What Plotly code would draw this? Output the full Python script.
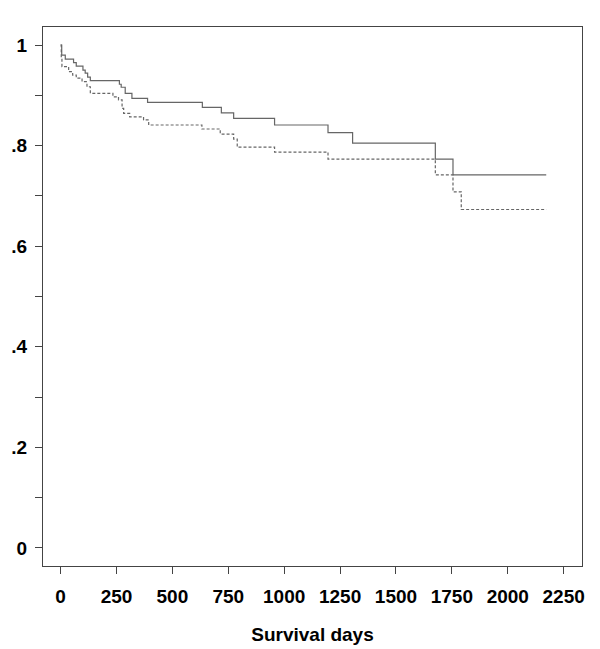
"""
Kaplan-Meier style survival curves (two groups) drawn as step lines.
"""

import plotly.graph_objects as go

# Group 1 (solid line): times of each drop and survival after it
solid_days = [0, 5, 21, 58, 70, 100, 110, 121, 133, 263, 271, 289, 319, 389,
              634, 719, 774, 957, 1196, 1306, 1676, 1755, 2172]
solid_surv = [1.0, 0.980, 0.972, 0.965, 0.958, 0.950, 0.944, 0.936, 0.929,
              0.922, 0.916, 0.904, 0.894, 0.886, 0.876, 0.865, 0.854, 0.841,
              0.826, 0.805, 0.773, 0.742, 0.742]

# Group 2 (dashed line)
dashed_days = [0, 3, 6, 36, 54, 70, 96, 118, 133, 234, 259, 275, 282, 309,
               371, 394, 632, 714, 774, 790, 957, 1196, 1676, 1755, 1792, 2172]
dashed_surv = [1.0, 0.975, 0.957, 0.947, 0.940, 0.934, 0.927, 0.917, 0.904,
               0.897, 0.891, 0.874, 0.864, 0.857, 0.851, 0.841, 0.833, 0.823,
               0.813, 0.797, 0.787, 0.773, 0.742, 0.708, 0.673, 0.673]

# Axis ticks
x_ticks = [0, 250, 500, 750, 1000, 1250, 1500, 1750, 2000, 2250]
y_ticks = [0, 0.2, 0.4, 0.6, 0.8, 1.0]
y_labels = ["0", ".2", ".4", ".6", ".8", "1"]

LINE_COLOR = "#666666"
AXIS_COLOR = "#444444"
FONT = "Liberation Sans, Arial, sans-serif"

fig = go.Figure()

fig.add_trace(go.Scatter(
    x=solid_days, y=solid_surv, mode="lines", line_shape="hv",
    line=dict(color=LINE_COLOR, width=1.2), showlegend=False,
))
fig.add_trace(go.Scatter(
    x=dashed_days, y=dashed_surv, mode="lines", line_shape="hv",
    line=dict(color=LINE_COLOR, width=1.2, dash="3px,2px"), showlegend=False,
))

fig.update_xaxes(
    range=[-78.7, 2332],
    tickvals=x_ticks, automargin=False,
    ticks="outside", ticklen=7, tickwidth=1, tickcolor=AXIS_COLOR,
    ticklabelstandoff=6,
    showline=True, linecolor=AXIS_COLOR, linewidth=1, mirror=True,
    showgrid=False, zeroline=False,
    tickfont=dict(family=FONT, size=19, color="black", weight="bold"),
    title=dict(text="<b>Survival days</b>", standoff=21,
               font=dict(family=FONT, size=19, color="black")),
)
fig.update_yaxes(
    range=[-0.0358, 1.0358],
    tickvals=y_ticks, ticktext=y_labels, automargin=False,
    ticks="outside", ticklen=7, tickwidth=1, tickcolor=AXIS_COLOR,
    ticklabelstandoff=4,
    minor=dict(dtick=0.1, tick0=0, ticks="outside", ticklen=7,
               tickcolor=AXIS_COLOR, showgrid=False),
    showline=True, linecolor=AXIS_COLOR, linewidth=1, mirror=True,
    showgrid=False, zeroline=False,
    tickfont=dict(family=FONT, size=19, color="black", weight="bold"),
)

# The page body adds an 8px offset, so the figure is sized to fit inside it
fig.update_layout(
    width=592, height=641,
    margin=dict(l=35, r=18, t=19, b=83),
    paper_bgcolor="white", plot_bgcolor="white",
    hovermode=False,
)

fig.write_html("out.html")
